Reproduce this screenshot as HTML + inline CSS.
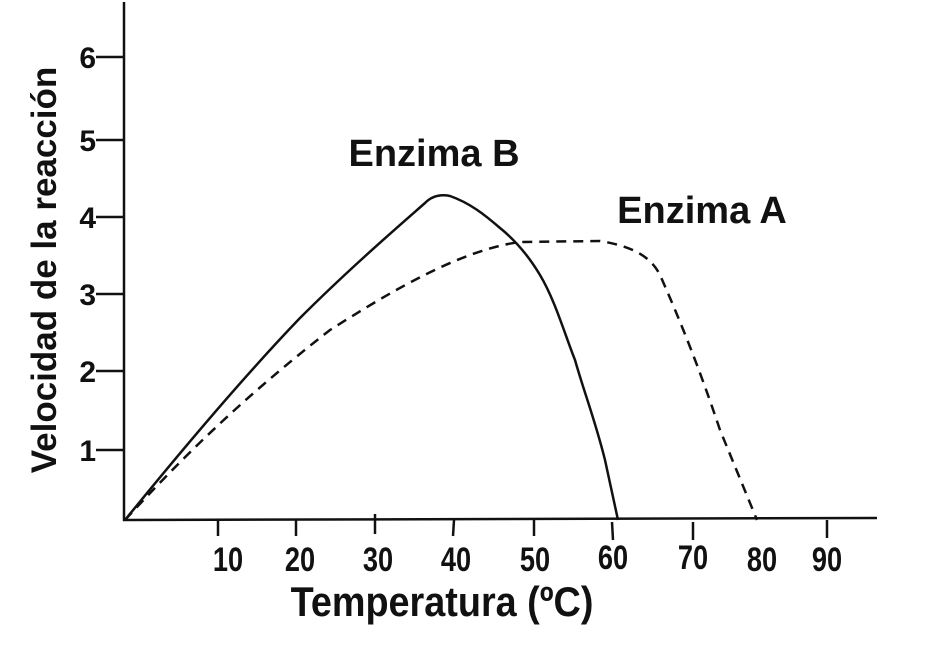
<!DOCTYPE html>
<html><head><meta charset="utf-8"><style>
html,body{margin:0;padding:0;background:#fff}
svg{display:block}
text{font-family:"Liberation Sans",Arial,sans-serif;font-weight:bold;fill:#111}
</style></head><body>
<svg width="927" height="652" viewBox="0 0 927 652">
<g stroke="#111" stroke-width="2.5" fill="none">
<line x1="124" y1="2" x2="124" y2="521"/>
<line x1="123" y1="520" x2="877" y2="518"/>
<line x1="96" y1="57" x2="124" y2="57"/>
<line x1="96" y1="140" x2="124" y2="140"/>
<line x1="96" y1="217" x2="124" y2="217"/>
<line x1="96" y1="294" x2="124" y2="294"/>
<line x1="96" y1="371" x2="124" y2="371"/>
<line x1="96" y1="450" x2="124" y2="450"/>
<line x1="218" y1="520" x2="218" y2="536"/>
<line x1="296" y1="520" x2="296" y2="536"/>
<line x1="375" y1="514" x2="375" y2="534"/>
<line x1="454" y1="520" x2="453" y2="536"/>
<line x1="534" y1="520" x2="534" y2="536"/>
<line x1="612" y1="522" x2="613" y2="540"/>
<line x1="693" y1="522" x2="693" y2="540"/>
<line x1="827" y1="520" x2="827" y2="538"/>
<path d="M125,520 C190,440 250,370 300,318 C350,268 400,225 425,203 C432,196 440,194 450,196 C470,203 485,215 500,228 C515,240 528,255 540,275 C555,300 565,335 575,360 C585,395 595,420 605,460 L618,520"/>
<path stroke-dasharray="10,7" d="M125,520 C180,460 240,400 330,330 C390,292 460,250 520,242 L600,241 C630,246 650,255 660,275 C680,320 700,370 720,430 L757,520"/>
</g>
<g font-size="30" text-anchor="end">
<text x="96" y="68">6</text><text x="96" y="151">5</text><text x="96" y="228">4</text>
<text x="96" y="305">3</text><text x="96" y="382">2</text><text x="96" y="461">1</text>
</g>
<g font-size="34" text-anchor="middle">
<text transform="translate(228,571) scale(0.8,1)">10</text>
<text transform="translate(300,571) scale(0.8,1)">20</text>
<text transform="translate(378,571) scale(0.8,1)">30</text>
<text transform="translate(456,571) scale(0.8,1)">40</text>
<text transform="translate(535,571) scale(0.8,1)">50</text>
<text transform="translate(613,569) scale(0.8,1)">60</text>
<text transform="translate(693,569) scale(0.8,1)">70</text>
<text transform="translate(762,571) scale(0.8,1)">80</text>
<text transform="translate(827,571) scale(0.8,1)">90</text>
</g>
<text transform="translate(442,616) scale(0.9,1)" font-size="42" text-anchor="middle">Temperatura (ºC)</text>
<text transform="translate(56,270) rotate(-90)" font-size="35" text-anchor="middle">Velocidad de la reacción</text>
<text x="434" y="166" font-size="38" text-anchor="middle">Enzima B</text>
<text x="702" y="223" font-size="38" text-anchor="middle">Enzima A</text>
</svg>
</body></html>
